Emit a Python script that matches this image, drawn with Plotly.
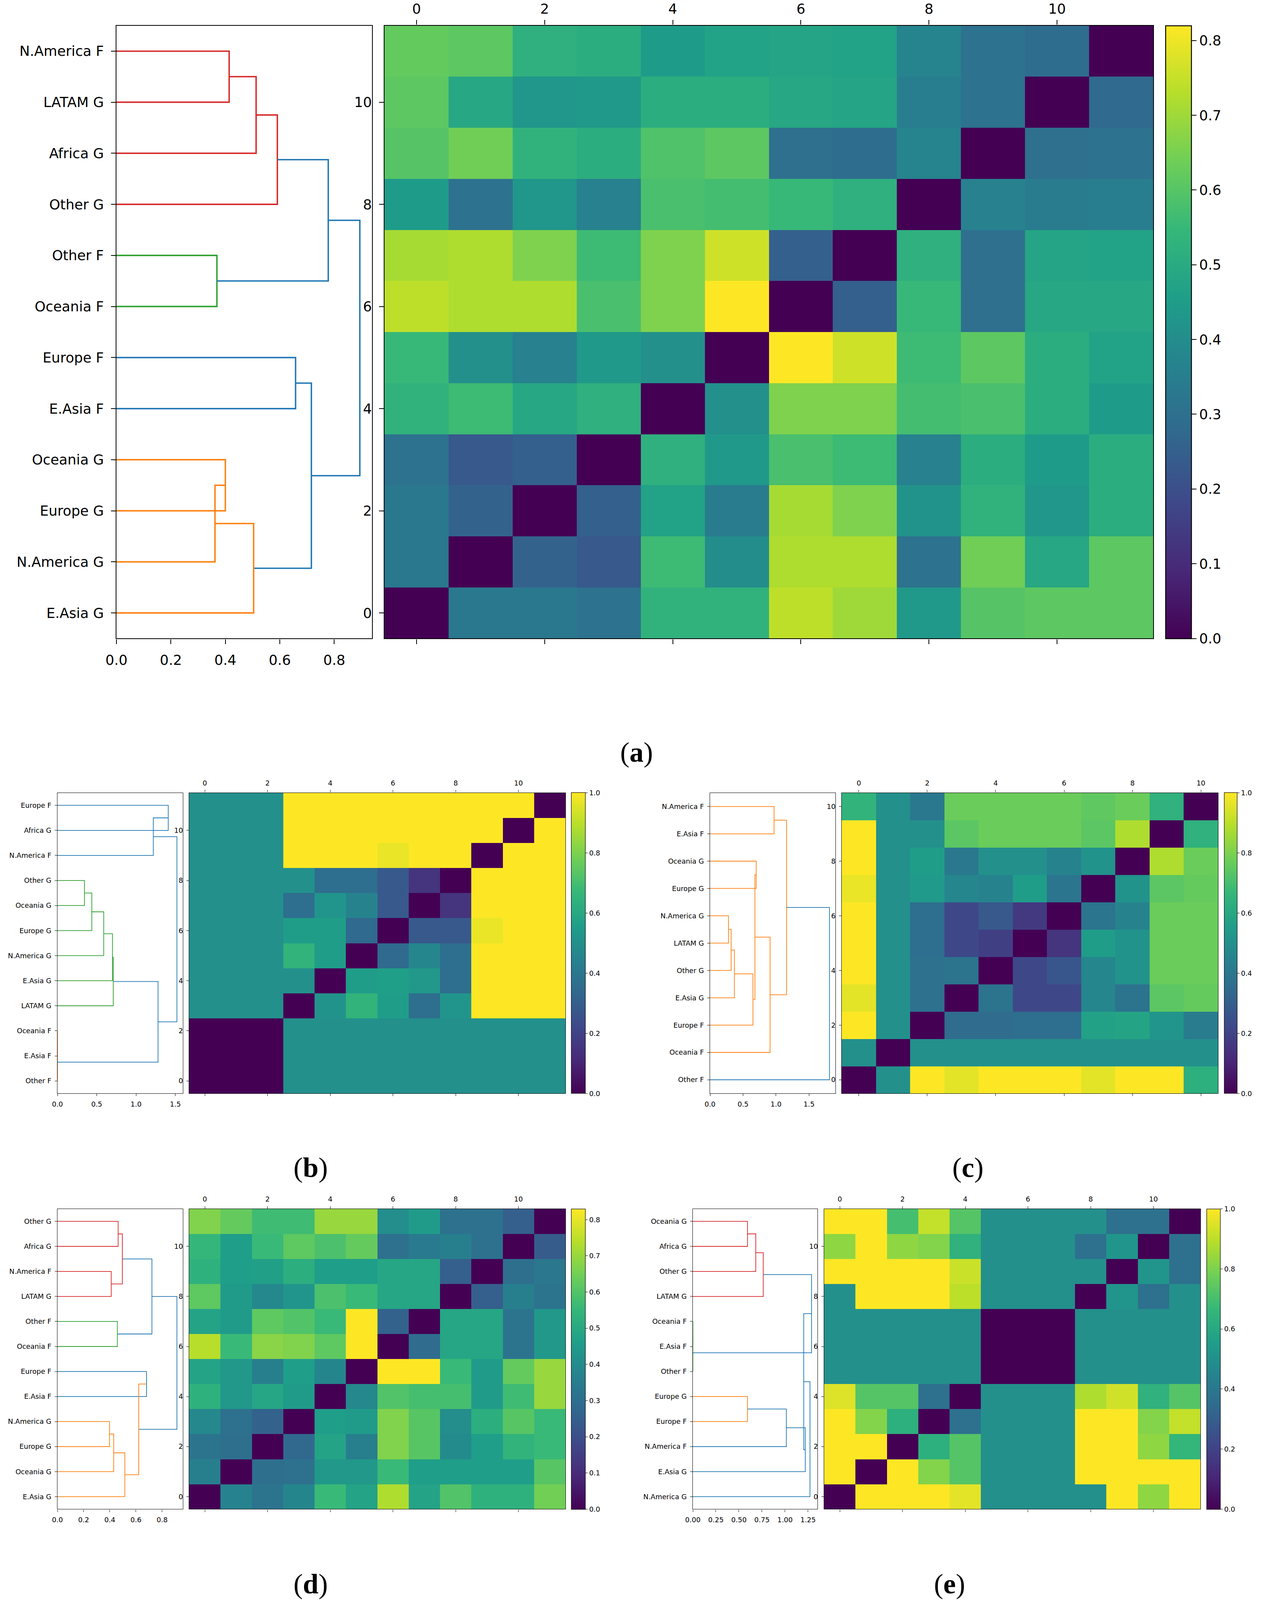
import plotly.graph_objects as go

W, H = 3227, 4561

# ---------------- data ----------------
# leaf labels are listed bottom -> top (leaf position 0 is the lowest row)
# links: (child_a, child_b, merge height); new nodes are numbered n, n+1, ...
# dist_*: heatmap rows, row 0 (bottom) first

labels_a = ["E.Asia G", "N.America G", "Europe G", "Oceania G", "E.Asia F", "Europe F",
            "Oceania F", "Other F", "Other G", "Africa G", "LATAM G", "N.America F"]
links_a = [(11, 10, 0.414), (12, 9, 0.513), (13, 8, 0.591), (7, 6, 0.369),
           (14, 15, 0.778), (5, 4, 0.658), (3, 2, 0.400), (18, 1, 0.362),
           (19, 0, 0.504), (17, 20, 0.716), (16, 21, 0.894)]
dist_a = [
    [0.00, 0.33, 0.33, 0.31, 0.53, 0.53, 0.74, 0.70, 0.44, 0.60, 0.61, 0.61],
    [0.33, 0.00, 0.26, 0.23, 0.56, 0.40, 0.72, 0.72, 0.31, 0.64, 0.49, 0.61],
    [0.33, 0.26, 0.00, 0.25, 0.47, 0.34, 0.71, 0.66, 0.42, 0.53, 0.43, 0.51],
    [0.31, 0.23, 0.25, 0.00, 0.52, 0.44, 0.58, 0.56, 0.36, 0.51, 0.45, 0.51],
    [0.53, 0.56, 0.49, 0.52, 0.00, 0.41, 0.66, 0.66, 0.57, 0.58, 0.51, 0.45],
    [0.55, 0.41, 0.36, 0.44, 0.41, 0.00, 0.82, 0.76, 0.56, 0.61, 0.51, 0.47],
    [0.74, 0.72, 0.72, 0.58, 0.66, 0.82, 0.00, 0.25, 0.55, 0.30, 0.49, 0.49],
    [0.71, 0.72, 0.66, 0.56, 0.66, 0.76, 0.25, 0.00, 0.52, 0.30, 0.48, 0.47],
    [0.45, 0.31, 0.43, 0.36, 0.58, 0.57, 0.55, 0.52, 0.00, 0.36, 0.34, 0.35],
    [0.60, 0.64, 0.53, 0.51, 0.59, 0.61, 0.30, 0.29, 0.37, 0.00, 0.30, 0.31],
    [0.61, 0.49, 0.43, 0.44, 0.51, 0.51, 0.49, 0.48, 0.35, 0.31, 0.00, 0.28],
    [0.62, 0.61, 0.52, 0.51, 0.45, 0.47, 0.48, 0.47, 0.37, 0.31, 0.29, 0.00],
]
dendro_ticks_a = [0.0, 0.2, 0.4, 0.6, 0.8]
cbar_ticks_a = [0.0, 0.1, 0.2, 0.3, 0.4, 0.5, 0.6, 0.7, 0.8]

labels_b = ["Other F", "E.Asia F", "Oceania F", "LATAM G", "E.Asia G", "N.America G",
            "Europe G", "Oceania G", "Other G", "N.America F", "Africa G", "Europe F"]
links_b = [(1, 2, 0.0), (0, 12, 0.0), (8, 7, 0.344), (14, 6, 0.4375), (15, 5, 0.589),
           (16, 4, 0.70), (17, 3, 0.71), (13, 18, 1.28), (11, 10, 1.41),
           (20, 9, 1.22), (19, 21, 1.52)]
dist_b = [
    [0.00, 0.00, 0.00, 0.50, 0.50, 0.50, 0.50, 0.50, 0.50, 0.50, 0.50, 0.50],
    [0.00, 0.00, 0.00, 0.50, 0.50, 0.50, 0.50, 0.50, 0.50, 0.50, 0.50, 0.50],
    [0.00, 0.00, 0.00, 0.50, 0.50, 0.50, 0.50, 0.50, 0.50, 0.50, 0.50, 0.50],
    [0.50, 0.50, 0.50, 0.00, 0.51, 0.65, 0.55, 0.36, 0.52, 1.00, 1.00, 1.00],
    [0.50, 0.50, 0.50, 0.50, 0.00, 0.55, 0.56, 0.53, 0.36, 1.00, 1.00, 1.00],
    [0.50, 0.50, 0.50, 0.65, 0.55, 0.00, 0.34, 0.46, 0.36, 1.00, 1.00, 1.00],
    [0.50, 0.50, 0.50, 0.55, 0.55, 0.34, 0.00, 0.28, 0.28, 0.97, 1.00, 1.00],
    [0.50, 0.50, 0.50, 0.36, 0.52, 0.45, 0.28, 0.00, 0.15, 1.00, 1.00, 1.00],
    [0.50, 0.50, 0.50, 0.50, 0.36, 0.36, 0.28, 0.15, 0.00, 1.00, 1.00, 1.00],
    [0.50, 0.50, 0.50, 1.00, 1.00, 1.00, 0.97, 1.00, 1.00, 0.00, 1.00, 1.00],
    [0.50, 0.50, 0.50, 1.00, 1.00, 1.00, 1.00, 1.00, 1.00, 1.00, 0.00, 1.00],
    [0.50, 0.50, 0.50, 1.00, 1.00, 1.00, 1.00, 1.00, 1.00, 1.00, 1.00, 0.00],
]
dendro_ticks_b = [0.0, 0.5, 1.0, 1.5]
cbar_ticks_b = [0.0, 0.2, 0.4, 0.6, 0.8, 1.0]

labels_c = ["Other F", "Oceania F", "Europe F", "E.Asia G", "Other G", "LATAM G",
            "N.America G", "Europe G", "Oceania G", "E.Asia F", "N.America F"]
links_c = [(10, 9, 0.97), (8, 7, 0.70), (6, 5, 0.28), (13, 4, 0.32), (14, 3, 0.37),
           (15, 2, 0.65), (12, 16, 0.68), (17, 1, 0.91), (11, 18, 1.16), (19, 0, 1.81)]
dist_c = [
    [0.00, 0.50, 1.00, 0.96, 1.00, 1.00, 1.00, 0.96, 1.00, 1.00, 0.63],
    [0.50, 0.00, 0.50, 0.50, 0.50, 0.50, 0.50, 0.50, 0.50, 0.50, 0.50],
    [1.00, 0.50, 0.00, 0.35, 0.35, 0.36, 0.36, 0.57, 0.58, 0.52, 0.42],
    [0.96, 0.50, 0.37, 0.00, 0.38, 0.22, 0.22, 0.46, 0.38, 0.74, 0.76],
    [1.00, 0.50, 0.37, 0.38, 0.00, 0.22, 0.27, 0.46, 0.51, 0.77, 0.77],
    [1.00, 0.50, 0.36, 0.22, 0.19, 0.00, 0.15, 0.55, 0.51, 0.77, 0.77],
    [1.00, 0.50, 0.36, 0.22, 0.28, 0.17, 0.00, 0.39, 0.45, 0.77, 0.77],
    [0.97, 0.50, 0.54, 0.46, 0.45, 0.55, 0.39, 0.00, 0.51, 0.74, 0.76],
    [1.00, 0.50, 0.55, 0.40, 0.50, 0.50, 0.45, 0.51, 0.00, 0.88, 0.77],
    [1.00, 0.50, 0.50, 0.74, 0.77, 0.77, 0.77, 0.74, 0.88, 0.00, 0.64],
    [0.65, 0.50, 0.40, 0.77, 0.77, 0.77, 0.77, 0.75, 0.77, 0.64, 0.00],
]
dendro_ticks_c = [0.0, 0.5, 1.0, 1.5]
cbar_ticks_c = [0.0, 0.2, 0.4, 0.6, 0.8, 1.0]

labels_d = ["E.Asia G", "Oceania G", "Europe G", "N.America G", "E.Asia F", "Europe F",
            "Oceania F", "Other F", "LATAM G", "N.America F", "Africa G", "Other G"]
links_d = [(11, 10, 0.464), (9, 8, 0.411), (12, 13, 0.496), (7, 6, 0.458),
           (14, 15, 0.722), (5, 4, 0.681), (3, 2, 0.398), (18, 1, 0.43),
           (19, 0, 0.515), (17, 20, 0.621), (16, 21, 0.913)]
dist_d = [
    [0.00, 0.37, 0.32, 0.38, 0.56, 0.48, 0.73, 0.48, 0.60, 0.53, 0.53, 0.65],
    [0.36, 0.00, 0.30, 0.31, 0.44, 0.44, 0.56, 0.46, 0.46, 0.46, 0.46, 0.61],
    [0.32, 0.30, 0.00, 0.28, 0.48, 0.36, 0.67, 0.61, 0.40, 0.46, 0.54, 0.56],
    [0.39, 0.31, 0.26, 0.00, 0.46, 0.45, 0.67, 0.61, 0.41, 0.52, 0.61, 0.56],
    [0.53, 0.44, 0.49, 0.45, 0.00, 0.39, 0.60, 0.58, 0.58, 0.45, 0.57, 0.70],
    [0.48, 0.44, 0.36, 0.46, 0.38, 0.00, 0.83, 0.83, 0.56, 0.45, 0.63, 0.70],
    [0.74, 0.56, 0.68, 0.67, 0.62, 0.83, 0.00, 0.29, 0.49, 0.49, 0.32, 0.44],
    [0.48, 0.45, 0.62, 0.60, 0.56, 0.83, 0.26, 0.00, 0.49, 0.49, 0.32, 0.44],
    [0.62, 0.45, 0.39, 0.43, 0.59, 0.56, 0.49, 0.49, 0.00, 0.25, 0.36, 0.32],
    [0.53, 0.46, 0.47, 0.52, 0.46, 0.46, 0.49, 0.49, 0.25, 0.00, 0.30, 0.33],
    [0.55, 0.46, 0.56, 0.62, 0.59, 0.63, 0.31, 0.34, 0.36, 0.31, 0.00, 0.24],
    [0.67, 0.63, 0.57, 0.57, 0.70, 0.70, 0.41, 0.45, 0.31, 0.31, 0.25, 0.00],
]
dendro_ticks_d = [0.0, 0.2, 0.4, 0.6, 0.8]
cbar_ticks_d = [0.0, 0.1, 0.2, 0.3, 0.4, 0.5, 0.6, 0.7, 0.8]

labels_e = ["N.America G", "E.Asia G", "N.America F", "Europe F", "Europe G", "Other F",
            "E.Asia F", "Oceania F", "LATAM G", "Other G", "Africa G", "Oceania G"]
links_e = [(11, 10, 0.593), (12, 9, 0.683), (13, 8, 0.764), (6, 7, 0.0), (15, 5, 0.0),
           (4, 3, 0.593), (17, 2, 1.015), (18, 1, 1.22), (14, 16, 1.288),
           (20, 19, 1.203), (21, 0, 1.271)]
dist_e = [
    [0.00, 1.00, 1.00, 1.00, 0.96, 0.50, 0.50, 0.50, 0.50, 1.00, 0.83, 1.00],
    [1.00, 0.00, 1.00, 0.81, 0.73, 0.50, 0.50, 0.50, 1.00, 1.00, 1.00, 1.00],
    [1.00, 1.00, 0.00, 0.63, 0.73, 0.50, 0.50, 0.50, 1.00, 1.00, 0.83, 0.66],
    [1.00, 0.81, 0.63, 0.00, 0.37, 0.50, 0.50, 0.50, 1.00, 1.00, 0.81, 0.91],
    [0.95, 0.73, 0.73, 0.37, 0.00, 0.50, 0.50, 0.50, 0.88, 0.93, 0.64, 0.73],
    [0.50, 0.50, 0.50, 0.50, 0.50, 0.00, 0.00, 0.00, 0.50, 0.50, 0.50, 0.50],
    [0.50, 0.50, 0.50, 0.50, 0.50, 0.00, 0.00, 0.00, 0.50, 0.50, 0.50, 0.50],
    [0.50, 0.50, 0.50, 0.50, 0.50, 0.00, 0.00, 0.00, 0.50, 0.50, 0.50, 0.50],
    [0.50, 1.00, 1.00, 1.00, 0.90, 0.50, 0.50, 0.50, 0.00, 0.52, 0.37, 0.50],
    [1.00, 1.00, 1.00, 1.00, 0.92, 0.50, 0.50, 0.50, 0.50, 0.00, 0.52, 0.37],
    [0.83, 1.00, 0.83, 0.81, 0.64, 0.50, 0.50, 0.50, 0.37, 0.52, 0.00, 0.37],
    [1.00, 1.00, 0.70, 0.91, 0.73, 0.50, 0.50, 0.50, 0.50, 0.37, 0.37, 0.00],
]
dendro_ticks_e = [0.0, 0.25, 0.5, 0.75, 1.0, 1.25]
cbar_ticks_e = [0.0, 0.2, 0.4, 0.6, 0.8, 1.0]

# ---------------- styling ----------------
PALETTE = {"C0": "#1f77b4", "C1": "#ff7f0e", "C2": "#2ca02c", "C3": "#d62728"}
link_colors = {
    "a": ["C3", "C3", "C3", "C2", "C0", "C0", "C1", "C1", "C1", "C0", "C0"],
    "b": ["C1", "C1", "C2", "C2", "C2", "C2", "C2", "C0", "C0", "C0", "C0"],
    "c": ["C1"] * 9 + ["C0"],
    "d": ["C3", "C3", "C3", "C2", "C0", "C0", "C1", "C1", "C1", "C1", "C0"],
    "e": ["C3", "C3", "C3", "C2", "C2", "C1", "C0", "C0", "C0", "C0", "C0"],
}

# pixel boxes: dendrogram x, heatmap x, colorbar x, (top, bottom), caption centre
panels = [
    dict(key="a", labels=labels_a, links=links_a, dist=dist_a, dt=dendro_ticks_a, dfmt=".1f",
         ct=cbar_ticks_a, dx=(298, 952), hx=(984, 2951), cx=(2983, 3049), y=(73, 1820),
         font=35.5, lw=3.6, axw=2.4, tl=12, pad=11, toppad=2, cap=(1629, 2145)),
    dict(key="b", labels=labels_b, links=links_b, dist=dist_b, dt=dendro_ticks_b, dfmt=".1f",
         ct=cbar_ticks_b, dx=(147, 468), hx=(484, 1447), cx=(1462, 1498), y=(2260, 3117),
         font=17.7, lw=1.8, axw=1.2, tl=6, pad=5, toppad=4, cap=(795, 3328)),
    dict(key="c", labels=labels_c, links=links_c, dist=dist_c, dt=dendro_ticks_c, dfmt=".1f",
         ct=cbar_ticks_c, dx=(1817, 2138), hx=(2154, 3117), cx=(3133, 3166), y=(2260, 3117),
         font=17.7, lw=1.8, axw=1.2, tl=6, pad=5, toppad=4, cap=(2477, 3328)),
    dict(key="d", labels=labels_d, links=links_d, dist=dist_d, dt=dendro_ticks_d, dfmt=".1f",
         ct=cbar_ticks_d, dx=(147, 468), hx=(484, 1447), cx=(1462, 1498), y=(3446, 4302),
         font=17.7, lw=1.8, axw=1.2, tl=6, pad=5, toppad=4, cap=(795, 4515)),
    dict(key="e", labels=labels_e, links=links_e, dist=dist_e, dt=dendro_ticks_e, dfmt=".2f",
         ct=cbar_ticks_e, dx=(1773, 2092), hx=(2109, 3072), cx=(3088, 3123), y=(3446, 4302),
         font=17.7, lw=1.8, axw=1.2, tl=6, pad=5, toppad=4, cap=(2430, 4515)),
]

FONT = "DejaVu Sans"


def fx(px):
    return px / W


def fy(py):
    return 1 - py / H


def dendro_paths(n, links, colors):
    # U-shaped link paths as in scipy's dendrogram(orientation="left")
    pos = {i: float(i) for i in range(n)}
    hgt = {i: 0.0 for i in range(n)}
    paths = {}
    for k, (a, b, h) in enumerate(links):
        xs, ys = paths.setdefault(colors[k], ([], []))
        xs += [hgt[a], h, h, hgt[b], None]
        ys += [pos[a], pos[a], pos[b], pos[b], None]
        pos[n + k] = (pos[a] + pos[b]) / 2
        hgt[n + k] = h
    return paths


fig = go.Figure()
layout = {}
annotations = []

for i, p in enumerate(panels):
    n = len(p["labels"])
    da, ha = 2 * i + 1, 2 * i + 2
    dref = "" if da == 1 else str(da)
    href = str(ha)
    tf = dict(family=FONT, size=p["font"], color="black")
    axcommon = dict(showgrid=False, zeroline=False, showline=True, linecolor="black",
                    linewidth=p["axw"], ticks="outside", ticklen=p["tl"], tickwidth=p["axw"],
                    tickcolor="black", tickfont=tf, ticklabelstandoff=p["pad"])

    # dendrogram
    for c, (xs, ys) in dendro_paths(n, p["links"], link_colors[p["key"]]).items():
        fig.add_trace(go.Scatter(x=xs, y=ys, mode="lines", line=dict(color=PALETTE[c], width=p["lw"]),
                                 xaxis="x" + dref, yaxis="y" + dref, hoverinfo="skip",
                                 showlegend=False))
    hmax = max(l[2] for l in p["links"])
    layout["xaxis" + dref] = dict(axcommon, domain=[fx(p["dx"][0]), fx(p["dx"][1])],
                                  range=[0, 1.05 * hmax], tickvals=p["dt"], tickformat=p["dfmt"],
                                  mirror=True, anchor="y" + dref)
    layout["yaxis" + dref] = dict(axcommon, domain=[fy(p["y"][1]), fy(p["y"][0])],
                                  range=[-0.5, n - 0.5], tickvals=list(range(n)),
                                  ticktext=p["labels"], mirror=True, anchor="x" + dref)

    # heatmap + colorbar
    zmax = max(max(r) for r in p["dist"])
    fig.add_trace(go.Heatmap(
        z=p["dist"], x=list(range(n)), y=list(range(n)), colorscale="Viridis",
        zmin=0, zmax=zmax, xaxis="x" + href, yaxis="y" + href, hoverinfo="skip",
        colorbar=dict(x=fx(p["cx"][0]), xanchor="left", xpad=0, ypad=0,
                      y=fy((p["y"][0] + p["y"][1]) / 2), yanchor="middle",
                      len=(p["y"][1] - p["y"][0]) / H, lenmode="fraction",
                      thickness=p["cx"][1] - p["cx"][0], thicknessmode="pixels",
                      outlinewidth=p["axw"], outlinecolor="black",
                      ticks="outside", ticklen=p["tl"], tickwidth=p["axw"], tickcolor="black",
                      tickvals=p["ct"], tickformat=".1f", tickfont=tf),
    ))
    layout["xaxis" + href] = dict(axcommon, domain=[fx(p["hx"][0]), fx(p["hx"][1])],
                                  range=[-0.5, n - 0.5], side="top",
                                  tickvals=list(range(0, n, 2)), mirror="ticks",
                                  ticklabelstandoff=p["toppad"], anchor="y" + href)
    layout["yaxis" + href] = dict(axcommon, domain=[fy(p["y"][1]), fy(p["y"][0])],
                                  range=[-0.5, n - 0.5], tickvals=list(range(0, n, 2)),
                                  mirror=True, anchor="x" + href)

    annotations.append(dict(text="(<b>%s</b>)" % p["key"], x=fx(p["cap"][0]), y=fy(p["cap"][1]),
                            xref="paper", yref="paper", showarrow=False,
                            xanchor="center", yanchor="middle",
                            font=dict(family="Liberation Serif", size=72, color="black")))

fig.update_layout(width=W, height=H, margin=dict(l=0, r=0, t=0, b=0),
                  paper_bgcolor="white", plot_bgcolor="white", template="none",
                  showlegend=False, annotations=annotations, **layout)

# the page is photographed through the visible window only, so fit the figure to it
fit_js = ("document.body.style.margin='0';document.body.style.overflow='hidden';"
          "if (window.innerHeight > 500 && window.innerWidth > 500) {"
          "Plotly.relayout('{plot_id}', {width: window.innerWidth, height: window.innerHeight});}")

fig.write_html("out.html", post_script=fit_js, config={"displayModeBar": False})
